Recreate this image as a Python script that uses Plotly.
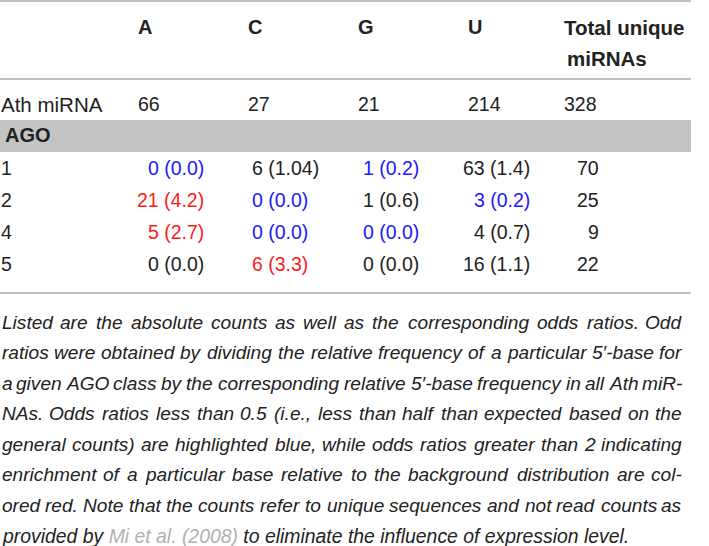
import plotly.graph_objects as go

# table data
bases = ["A", "C", "G", "U"]
ath_counts = [66, 27, 21, 214]
ath_total = 328
ago_classes = ["1", "2", "4", "5"]
counts = [[0, 6, 1, 63],
          [21, 0, 1, 3],
          [5, 0, 0, 4],
          [0, 6, 0, 16]]
odds = [["0.0", "1.04", "0.2", "1.4"],
        ["4.2", "0.0", "0.6", "0.2"],
        ["2.7", "0.0", "0.0", "0.7"],
        ["0.0", "3.3", "0.0", "1.1"]]
# low = odds ratio < 0.5 (blue), high = > 2 (red), as marked in the source
marks = [["low", "", "low", ""],
         ["high", "low", "", "low"],
         ["high", "low", "low", ""],
         ["", "high", "", ""]]
totals = [70, 25, 9, 22]

footnote = [
    "Listed are the absolute counts as well as the corresponding odds ratios. Odd",
    "ratios were obtained by dividing the relative frequency of a particular 5\u2032-base for",
    "a given AGO class by the corresponding relative 5\u2032-base frequency in all Ath miR-",
    "NAs. Odds ratios less than 0.5 (i.e., less than half than expected based on the",
    "general counts) are highlighted blue, while odds ratios greater than 2 indicating",
    "enrichment of a particular base relative to the background distribution are col-",
    "ored red. Note that the counts refer to unique sequences and not read counts as",
]
last_line = ("provided by <span style='color:#b0b0b0'>Mi et al. (2008)</span>"
             " to eliminate the influence of expression level.")

# layout settings
W, H = 709, 546
FONT = "Liberation Sans"
TXT = "#222222"
colors = {"low": "#1a1aff", "high": "#ff1a1a", "": TXT}
line_col = "#c0c0c0"
table_right = 691

# Arial / Liberation Sans advance widths (1/1000 em) for justifying the footnote
aw = dict(zip("abcdefghijklmnopqrstuvwxyz",
              [556, 556, 500, 556, 556, 278, 556, 556, 222, 222, 500, 222, 833,
               556, 556, 556, 556, 333, 500, 278, 556, 500, 722, 500, 500, 500]))
aw.update(dict(zip("ABCDEFGHIJKLMNOPQRSTUVWXYZ",
                   [667, 667, 722, 722, 667, 611, 778, 722, 278, 500, 667, 556, 833,
                    722, 778, 667, 778, 722, 667, 611, 722, 667, 944, 667, 667, 611])))
aw.update({c: 556 for c in "0123456789"})
aw.update({" ": 278, ".": 278, ",": 278, "(": 333, ")": 333, "-": 333, "\u2032": 190})


def text_width(s, size):
    return sum(aw.get(c, 556) for c in s) * size / 1000.0 * 1.01


fig = go.Figure()
fig.add_trace(go.Scatter(x=[0, W], y=[0, H], mode="markers",
                         marker=dict(opacity=0), hoverinfo="skip", showlegend=False))

ann = []


def add(text, x, y, anchor="left", size=19.5, bold=False, italic=False, color=TXT):
    ann.append(dict(text=text, x=x, y=y, xref="x", yref="y", showarrow=False,
                    xanchor=anchor, yanchor="middle", borderpad=0,
                    font=dict(family=FONT, size=size, color=color,
                              weight="bold" if bold else "normal",
                              style="italic" if italic else "normal")))


# rules and the AGO band
shapes = []
for yy in [1, 79, 293]:
    shapes.append(dict(type="line", x0=0, x1=table_right, y0=yy, y1=yy,
                       line=dict(color=line_col, width=2), xref="x", yref="y"))
shapes.append(dict(type="rect", x0=0, x1=table_right, y0=120, y1=152,
                   fillcolor="#c4c4c4", line=dict(width=0), xref="x", yref="y", layer="below"))

# header
col_left = [137, 247, 357, 467]
for b, cx in zip(bases, col_left):
    add(b, cx, 27, bold=True, size=20)
add("Total unique", 563, 27, bold=True, size=20.5)
add("miRNAs", 566, 58, bold=True, size=20.5)

# Ath miRNA row
add("Ath miRNA", 0, 104, size=20.5)
for v, cx in zip(ath_counts, col_left):
    add(str(v), cx, 104)
add(str(ath_total), 563, 104)

add("AGO", 4, 135, bold=True, size=20)

# AGO rows
cell_x = [(205, "right"), (251, "left"), (362, "left"), (531, "right")]
row_y = [168, 200, 232, 264]
for i, cls in enumerate(ago_classes):
    y = row_y[i]
    add(cls, 0, y)
    for j in range(4):
        cx, anc = cell_x[j]
        add(f"{counts[i][j]} ({odds[i][j]})", cx, y, anchor=anc, color=colors[marks[i][j]])
    add(str(totals[i]), 600, y, anchor="right")

# footnote, justified between x0 and x1; first/last words pinned to the edges,
# the others centred on their slot so width errors don't pile up
fs = 19.1
x0, x1 = 1, 683
line_y = [322, 352.5, 383, 413.5, 444, 474.5, 505]
for line, y in zip(footnote, line_y):
    words = line.split(" ")
    ws = [text_width(w, fs) for w in words]
    gap = (x1 - x0 - sum(ws)) / (len(words) - 1)
    xx = x0
    for k, w in enumerate(words):
        if k == 0:
            add(w, x0, y, size=fs, italic=True)
        elif k == len(words) - 1:
            add(w, x1, y, anchor="right", size=fs, italic=True)
        else:
            add(w, xx + ws[k] / 2, y, anchor="center", size=fs, italic=True)
        xx += ws[k] + gap
add(last_line, x0, 535.5, size=19.4, italic=True)

fig.update_layout(
    width=W, height=H,
    margin=dict(l=0, r=0, t=0, b=0),
    paper_bgcolor="white", plot_bgcolor="white",
    xaxis=dict(range=[0, W], visible=False, fixedrange=True),
    yaxis=dict(range=[H, 0], visible=False, fixedrange=True),
    annotations=ann, shapes=shapes,
    showlegend=False,
)

fig.write_html("out.html", config={"displayModeBar": False},
               post_script="document.body.style.margin='0';")
